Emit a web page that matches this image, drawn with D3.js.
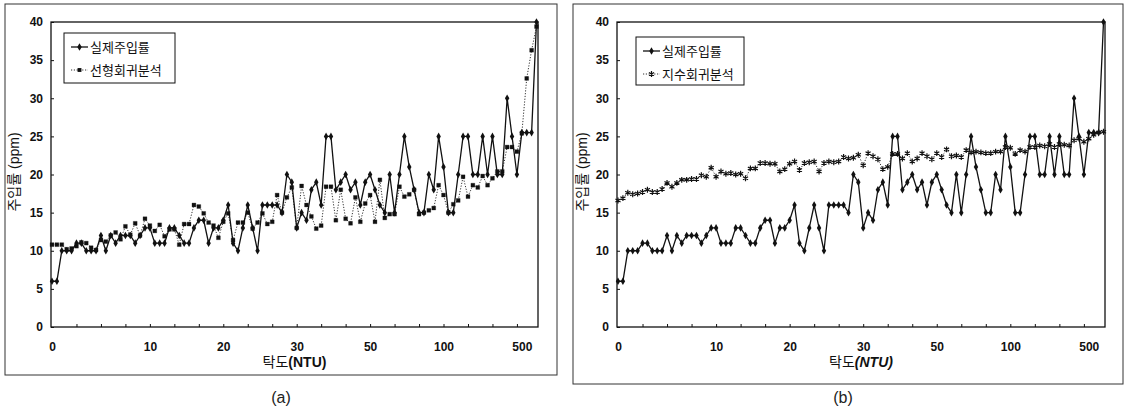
<!DOCTYPE html>
<html>
  <head>
    <meta charset="utf-8">
    <title>탁도에 따른 주입률</title>
    <script src="https://cdn.jsdelivr.net/npm/d3@7/dist/d3.min.js"></script>
    <style>
      body { margin: 0; background: #fff; }
      svg { display: block; font-family: "Liberation Sans", "Noto Sans CJK KR", sans-serif; }
      .axis text { font-size: 12px; font-weight: bold; fill: #111; }
      .axis line { stroke: #111; stroke-width: 1; }
      .axis .domain { display: none; }
      .frame { fill: none; stroke: #111; stroke-width: 1.3; }
      .panelBox { fill: none; stroke: #333; stroke-width: 1; }
      .legendBox { fill: #fff; stroke: #111; stroke-width: 1; }
      .legendText { font-family: "Noto Sans CJK KR", sans-serif; font-size: 13px; fill: #111; }
      .axisTitle { font-size: 14px; fill: #111; }
      .caption { font-size: 16px; fill: #222; }
      .actualLine { fill: none; stroke: #111; stroke-width: 1.3; }
      .modelLine { fill: none; stroke: #333; stroke-width: 1; stroke-dasharray: 1.2 1.6; }
    </style>
  </head>

  <body>
    <svg id="chart" width="1125" height="409"></svg>

    <script>
      // data: one point per sample, x axis is category index
      xLabels = ["0", "10", "20", "30", "50", "100", "500"];
      xLabelIndex = [0, 20, 35, 50, 65, 80, 96];
      yTicks = [0, 5, 10, 15, 20, 25, 30, 35, 40];

      // 실제주입률 (actual dose, ppm)
      actual = [
        6, 6, 10, 10, 10, 11, 11, 10, 10, 10,
        12, 10, 12, 11, 12, 12, 12, 11, 12, 13,
        13, 11, 11, 11, 13, 13, 12, 11, 11, 13,
        14, 14, 11, 13, 13, 14, 16, 11, 10, 13,
        16, 13, 10, 16, 16, 16, 16, 15, 20, 19,
        13, 15, 14, 18, 19, 16, 25, 25, 18, 19,
        20, 18, 19, 16, 19, 20, 18, 16, 15, 20,
        15, 20, 25, 21, 18, 15, 15, 20, 18, 25,
        21, 15, 15, 20, 25, 25, 20, 20, 25, 20,
        25, 20, 20, 30, 25, 20, 25.5, 25.5, 25.5, 40
      ];

      // 선형회귀분석 (linear regression)
      linear = [
        10.8, 10.8, 10.8, 10.2, 10.3, 10.6, 11.1, 11.0, 10.4, 10.1,
        11.4, 11.2, 12.0, 12.4, 11.5, 13.2, 12.1, 13.6, 12.0, 14.2,
        13.3, 12.6, 13.4, 11.9, 12.8, 12.8, 10.8, 13.5, 13.5, 16.0,
        15.8, 14.9, 13.7, 13.3, 11.7, 13.8, 14.9, 11.4, 13.7, 13.7,
        15.0, 12.9, 13.7, 14.9, 13.5, 13.8, 17.3, 15.0, 17.0, 18.3,
        13.0, 18.5, 16.0, 14.5, 12.9, 13.3, 18.4, 18.4, 14.0, 18.0,
        14.2, 13.6, 17.0, 13.8, 16.2, 17.3, 13.8, 19.3, 14.3, 14.8,
        14.8, 18.4, 17.1, 17.4, 18.0, 14.8, 15.0, 15.3, 15.6, 18.6,
        17.3, 15.0, 16.1, 16.6, 19.7, 17.1, 18.6, 18.3, 19.8, 18.6,
        19.5, 20.4, 20.4, 23.6, 23.6, 23.0, 25.4, 32.6, 36.3, 39.4
      ];

      // 지수회귀분석 (exponential regression)
      exponential = [
        16.6, 16.9, 17.6, 17.4, 17.5, 17.7, 18.0, 17.7, 17.7, 18.1,
        18.9, 18.4, 18.9, 19.3, 19.3, 19.4, 19.4, 19.9, 19.7, 20.9,
        19.7, 20.4, 20.1, 20.2, 20.0, 20.1, 19.5, 20.8, 20.8, 21.5,
        21.5, 21.4, 21.4, 20.4, 20.7, 21.4, 21.7, 20.6, 21.5, 21.6,
        21.7, 20.4, 21.5, 21.7, 21.6, 21.7, 22.3, 22.1, 22.2, 22.6,
        21.2, 22.8, 22.4, 22.0, 20.7, 21.0, 22.7, 22.7, 22.1, 22.8,
        21.7, 22.1, 22.8, 22.4, 22.0, 22.8, 22.3, 23.3, 22.4, 22.5,
        22.3, 23.2, 22.9, 23.0, 22.9, 22.8, 22.8, 23.0, 23.0, 23.6,
        23.5, 22.7, 23.2, 23.0, 23.6, 23.6, 23.8, 23.7, 24.0, 23.6,
        24.0, 23.9, 23.8, 24.5, 24.7, 24.3, 24.7, 25.2, 25.5, 25.6
      ];

      svg = d3.select("#chart");

      // markers
      diamond = d3.symbol().type(d3.symbolDiamond).size(17);
      square = d3.symbol().type(d3.symbolSquare).size(15);
      asterisk = d3.symbol().type(d3.symbolAsterisk).size(24);

      panels = [
        {
          box: { x: 5, y: 4, w: 552, h: 371 },
          plot: { left: 51, right: 538, top: 22, bottom: 327 },
          yTitleX: 14,
          caption: "(a)", captionX: 281,
          italic: false,
          model: { name: "선형회귀분석", values: linear, marker: square },
          legend: { x: 64, y: 33, w: 111, h: 50 }
        },
        {
          box: { x: 573, y: 4, w: 550, h: 380 },
          plot: { left: 617, right: 1105, top: 22, bottom: 327 },
          yTitleX: 582,
          caption: "(b)", captionX: 843,
          italic: true,
          model: { name: "지수회귀분석", values: exponential, marker: asterisk },
          legend: { x: 636, y: 37, w: 108, h: 48 }
        }
      ];

      panels.forEach(drawPanel);

      function drawPanel(p) {
        g = svg.append("g");

        g.append("rect")
          .attr("class", "panelBox")
          .attr("x", p.box.x)
          .attr("y", p.box.y)
          .attr("width", p.box.w)
          .attr("height", p.box.h);

        x = d3.scaleLinear()
          .domain([0, actual.length - 1])
          .range([p.plot.left + 1, p.plot.right - 1.5]);
        y = d3.scaleLinear()
          .domain([0, 40])
          .range([p.plot.bottom, p.plot.top]);

        // y axis, ticks pointing into the plot
        g.append("g")
          .attr("class", "axis")
          .attr("transform", "translate(" + p.plot.left + ", 0)")
          .call(d3.axisLeft(y)
            .tickValues(yTicks)
            .tickSizeInner(-3)
            .tickSizeOuter(0)
            .tickPadding(8));

        // x tick marks every 5 samples
        g.append("g")
          .attr("class", "axis")
          .attr("transform", "translate(0, " + p.plot.bottom + ")")
          .call(d3.axisBottom(x)
            .tickValues(d3.range(5, actual.length, 5))
            .tickFormat("")
            .tickSizeInner(-3)
            .tickSizeOuter(0));

        // x labels (turbidity)
        g.append("g")
          .attr("class", "axis")
          .attr("transform", "translate(0, " + p.plot.bottom + ")")
          .call(d3.axisBottom(x)
            .tickValues(xLabelIndex)
            .tickFormat(function(d, i) { return xLabels[i]; })
            .tickSize(0)
            .tickPadding(15));

        g.append("rect")
          .attr("class", "frame")
          .attr("x", p.plot.left)
          .attr("y", p.plot.top)
          .attr("width", p.plot.right - p.plot.left)
          .attr("height", p.plot.bottom - p.plot.top);

        // axis titles
        xTitle = g.append("text")
          .attr("class", "axisTitle")
          .attr("x", (p.plot.left + p.plot.right) / 2)
          .attr("y", 367)
          .attr("text-anchor", "middle");
        xTitle.append("tspan")
          .style("font-family", "'Noto Sans CJK KR'")
          .text("탁도");
        xTitle.append("tspan")
          .style("font-weight", "bold")
          .style("font-style", p.italic ? "italic" : "normal")
          .text("(NTU)");

        g.append("text")
          .attr("class", "axisTitle")
          .attr("transform", "translate(" + p.yTitleX + ", 172) rotate(-90)")
          .attr("text-anchor", "middle")
          .attr("dy", "0.35em")
          .text("주입률 (ppm)");

        // series
        line = d3.line()
          .x(function(d, i) { return x(i); })
          .y(function(d) { return y(d); });

        g.append("path")
          .datum(p.model.values)
          .attr("class", "modelLine")
          .attr("d", line);

        g.append("path")
          .datum(actual)
          .attr("class", "actualLine")
          .attr("d", line);

        g.selectAll(".modelPoint")
            .data(p.model.values)
          .enter().append("path")
            .attr("class", "modelPoint")
            .attr("transform", function(d, i) { return "translate(" + x(i) + "," + y(d) + ")"; })
            .attr("d", p.model.marker)
            .attr("fill", "#111")
            .attr("stroke", "#111")
            .attr("stroke-width", p.model.marker === asterisk ? 1.2 : 0.3);

        g.selectAll(".actualPoint")
            .data(actual)
          .enter().append("path")
            .attr("class", "actualPoint")
            .attr("transform", function(d, i) { return "translate(" + x(i) + "," + y(d) + ")"; })
            .attr("d", diamond)
            .attr("fill", "#111");

        // legend
        lg = g.append("g")
          .attr("transform", "translate(" + p.legend.x + "," + p.legend.y + ")");
        lg.append("rect")
          .attr("class", "legendBox")
          .attr("width", p.legend.w)
          .attr("height", p.legend.h);

        entries = [
          { name: "실제주입률", cls: "actualLine", marker: diamond, dy: 14 },
          { name: p.model.name, cls: "modelLine", marker: p.model.marker, dy: 37 }
        ];
        entries.forEach(function(e) {
          lg.append("line")
            .attr("class", e.cls)
            .attr("x1", 7)
            .attr("x2", 24)
            .attr("y1", e.dy)
            .attr("y2", e.dy);
          lg.append("path")
            .attr("transform", "translate(15.5," + e.dy + ")")
            .attr("d", e.marker)
            .attr("fill", "#111")
            .attr("stroke", "#111")
            .attr("stroke-width", e.marker === asterisk ? 1.2 : 0);
          lg.append("text")
            .attr("class", "legendText")
            .attr("x", 26)
            .attr("y", e.dy)
            .attr("dy", "0.35em")
            .text(e.name);
        });

        // caption under the panel
        svg.append("text")
          .attr("class", "caption")
          .attr("x", p.captionX)
          .attr("y", 403)
          .attr("text-anchor", "middle")
          .text(p.caption);
      }
    </script>
  </body>
</html>
